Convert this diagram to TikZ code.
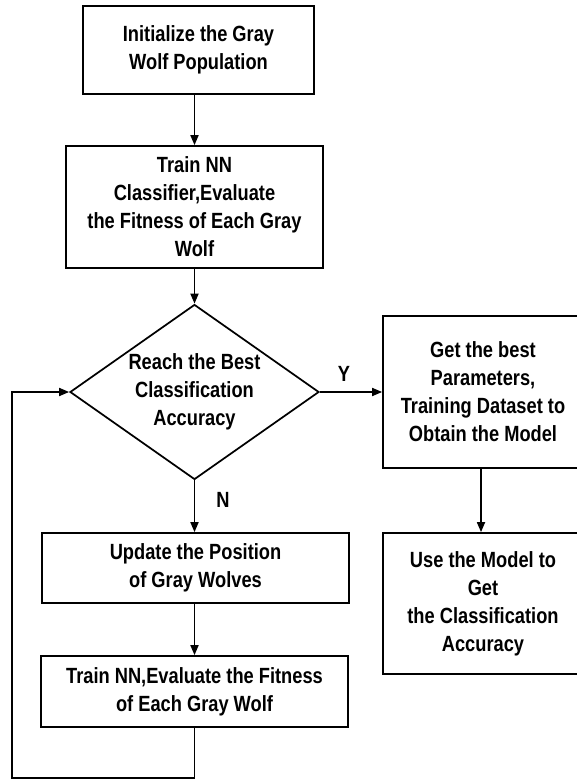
\documentclass[tikz,border=0pt]{standalone}
\usepackage{fontspec}
\setmainfont{Liberation Sans}[FakeStretch=0.83]
\usetikzlibrary{shapes.geometric,arrows.meta}
\begin{document}
\begin{tikzpicture}[x=0.75pt,y=-0.75pt,
  every node/.style={font=\fontsize{16.5pt}{21pt}\selectfont\bfseries, align=center, inner sep=0pt},
  procbox/.style={draw, line width=1.3pt, rectangle},
  decision/.style={draw, line width=1.3pt, diamond, aspect=1.42},
  arr/.style={line width=1.3pt, -{Triangle[length=7.5pt,width=6pt]}},
  lbl/.style={font=\fontsize{16.5pt}{21pt}\selectfont\bfseries}]
\useasboundingbox (0,0) rectangle (576,780);

% main column
\node[procbox, minimum width=173.25pt, minimum height=66pt] (init) at (198.5,50)
  {Initialize the Gray\\Wolf Population};
\node[procbox, minimum width=192.75pt, minimum height=91.5pt] (train) at (194.5,207)
  {Train NN\\Classifier,Evaluate\\the Fitness of Each Gray\\Wolf};
\node[decision, minimum width=186.75pt, minimum height=131.25pt] (check) at (194.5,392)
  {Reach the Best\\Classification\\Accuracy};
\node[procbox, minimum width=230.25pt, minimum height=52.5pt] (update) at (195.5,568)
  {Update the Position\\of Gray Wolves};
\node[procbox, minimum width=230.25pt, minimum height=53.25pt] (eval) at (194.5,691.5)
  {Train NN,Evaluate the Fitness\\of Each Gray Wolf};

% right column, running past the right margin
\node[procbox, minimum width=150pt, minimum height=114pt] (best) at (483,392)
  {Get the best\\Parameters,\\Training Dataset to\\Obtain the Model};
\node[procbox, minimum width=150pt, minimum height=105.75pt] (use) at (483,603.5)
  {Use the Model to\\Get\\the Classification\\Accuracy};

% connectors
\draw[arr] (train.north |- init.south) -- (train.north);
\draw[arr] (train.south) -- (check.north);
\draw[arr] (check.east) -- (best.west);
\draw[arr] (check.south) -- (check.south |- update.north);
\draw[arr] ([xshift=-1.5pt]best.south) -- ([xshift=-1.5pt]use.north);
\draw[arr] (eval.north |- update.south) -- (eval.north);

% feedback loop
\coordinate (loopcorner) at (12,778);
\draw[arr] (eval.south) |- (loopcorner) |- (check.west);

% branch labels
\node[lbl] (yes) at (344,374) {Y};
\node[lbl] (no) at (223,500) {N};
\end{tikzpicture}
\end{document}
